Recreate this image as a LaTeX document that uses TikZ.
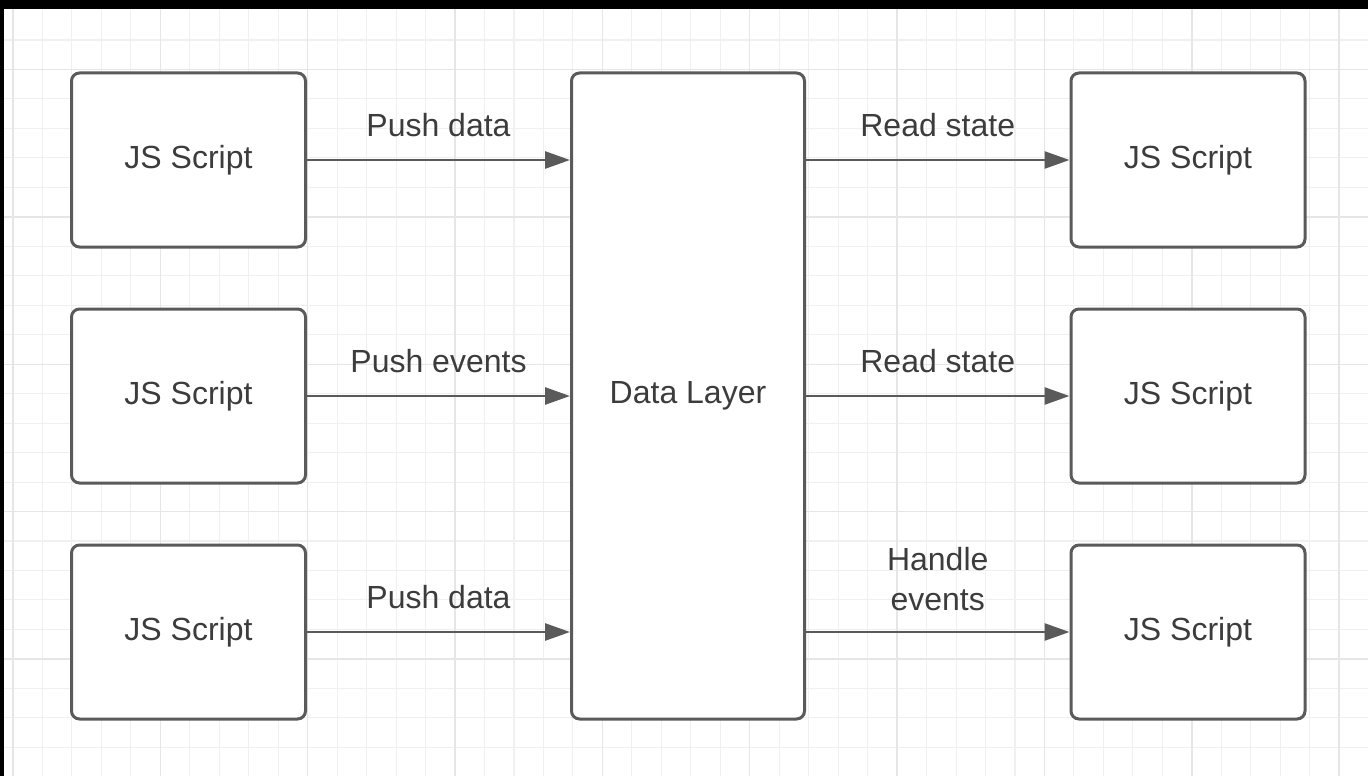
\documentclass[tikz,border=0pt]{standalone}
\usepackage{fontspec}
\setmainfont{Liberation Sans}
\usetikzlibrary{arrows.meta}
\definecolor{gridminor}{HTML}{F0F0F0}
\definecolor{gridmajor}{HTML}{E6E6E6}
\definecolor{edge}{HTML}{5A5A5A}
\definecolor{ink}{HTML}{3C3C3C}
\tikzset{
  minorline/.style={draw=gridminor, line width=1.1pt},
  majorline/.style={draw=gridmajor, line width=1.4pt},
  box/.style={draw=edge, line width=3pt, rounded corners=8pt, fill=white,
    text=ink, font=\fontsize{32}{40}\selectfont},
  script/.style={box, minimum width=234pt, minimum height=174pt},
  layer/.style={box, minimum width=233pt, minimum height=646pt},
  flow/.style={draw=edge, line width=2.7pt, -{Triangle[length=25pt,width=17pt]}},
  tag/.style={text=ink, font=\fontsize{32}{40}\selectfont, align=center, anchor=base, inner sep=0pt}
}
\begin{document}
\begin{tikzpicture}[x=1pt, y=-1pt]
\useasboundingbox (0,0) rectangle (1368,776);
\fill[white] (0,0) rectangle (1368,776);
% background grid
\foreach \i in {0,...,46} \draw[minorline] ({13+29.47*\i},9) -- ({13+29.47*\i},776);
\foreach \i in {0,...,25} \draw[minorline] (0,{40+29.47*\i}) -- (1368,{40+29.47*\i});
\foreach \i in {0,...,9} \draw[majorline] ({13+147.35*\i},9) -- ({13+147.35*\i},776);
\foreach \i in {0,...,4} \draw[majorline] (0,{69.5+147.35*\i}) -- (1368,{69.5+147.35*\i});
% dark frame edges
\fill[black] (0,0) rectangle (1368,9);
\fill[black] (0,0) rectangle (3.5,776);

% boxes
\node[script] (l1) at (188.5,160) {JS Script};
\node[script] (l2) at (188.5,396) {JS Script};
\node[script] (l3) at (188.5,632) {JS Script};
\node[layer]  (dl) at (688,396) {Data Layer};
\node[script] (r1) at (1188,160) {JS Script};
\node[script] (r2) at (1188,396) {JS Script};
\node[script] (r3) at (1188,632) {JS Script};

% connectors
\draw[flow] (l1.east) -- (l1.east -| dl.west) node[tag, midway, yshift=24pt] {Push data};
\draw[flow] (l2.east) -- (l2.east -| dl.west) node[tag, midway, yshift=24pt] {Push events};
\draw[flow] (l3.east) -- (l3.east -| dl.west) node[tag, midway, yshift=24pt] {Push data};
\draw[flow] (r1.west -| dl.east) -- (r1.west) node[tag, midway, yshift=24pt] {Read state};
\draw[flow] (r2.west -| dl.east) -- (r2.west) node[tag, midway, yshift=24pt] {Read state};
\draw[flow] (r3.west -| dl.east) -- (r3.west) node[tag, midway, yshift=22pt] {Handle\\events};
\end{tikzpicture}
\end{document}
